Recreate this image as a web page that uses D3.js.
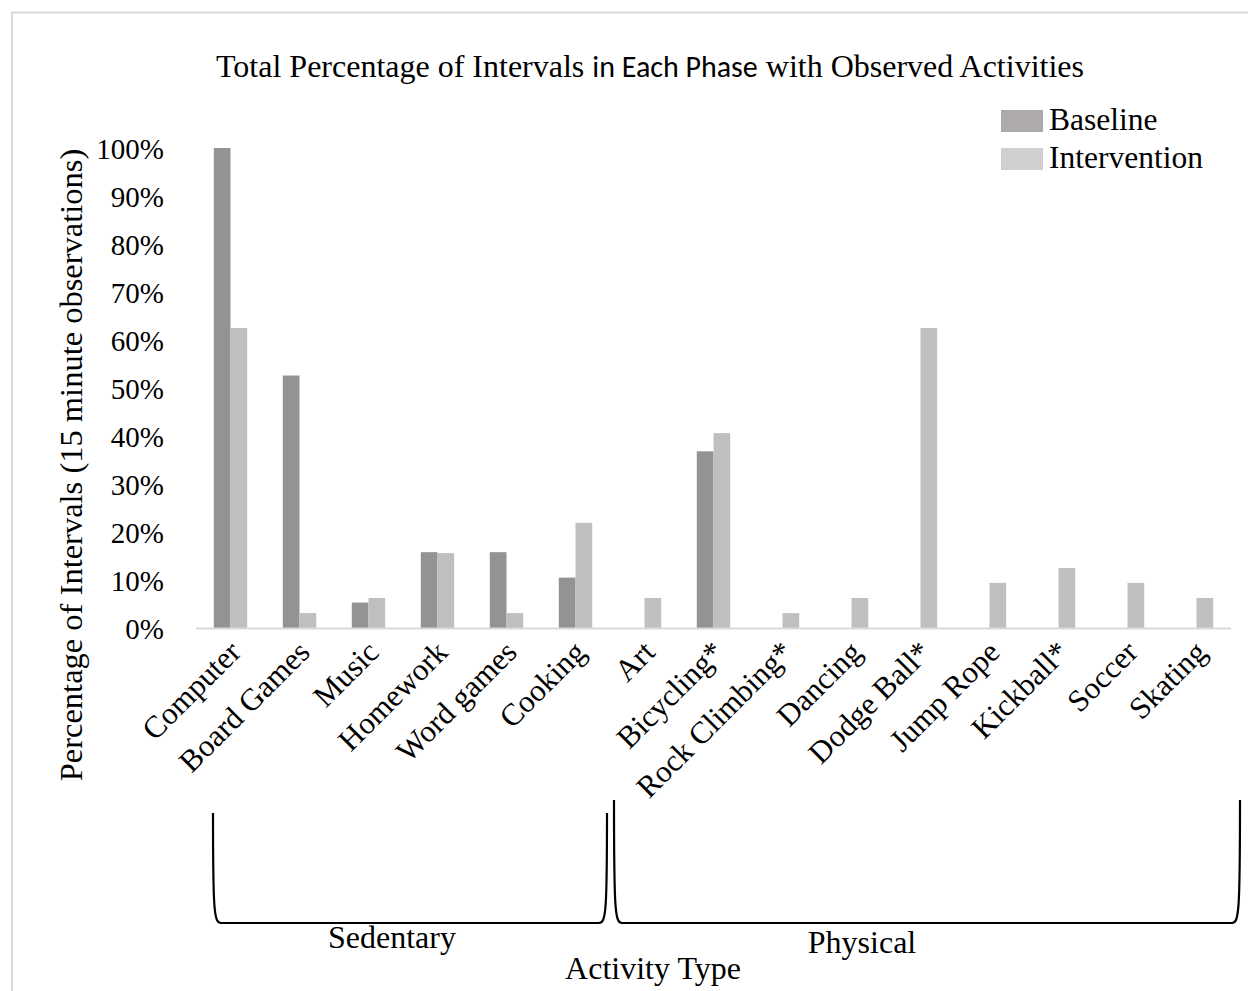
<!DOCTYPE html>
<html>
<head>
<meta charset="utf-8">
<script src="https://cdn.jsdelivr.net/npm/d3@7"></script>
<style>
  html, body { margin: 0; padding: 0; background: #fff; }
  svg { display: block; }
</style>
</head>
<body>
<svg id="chart" width="1248" height="991"></svg>
<script>
// Activities observed, in display order
const activities = ["Computer", "Board Games", "Music", "Homework", "Word games", "Cooking",
  "Art", "Bicycling*", "Rock Climbing*", "Dancing", "Dodge Ball*", "Jump Rope", "Kickball*", "Soccer", "Skating"];

// Percentage of intervals with each activity (baseline: 19 intervals, intervention: 32 intervals)
const baseline = [100, 52.6, 5.3, 15.8, 15.8, 10.5, 0, 36.8, 0, 0, 0, 0, 0, 0, 0];
const intervention = [62.5, 3.1, 6.25, 15.6, 3.1, 21.9, 6.25, 40.6, 3.1, 6.25, 62.5, 9.4, 12.5, 9.4, 6.25];

const seriesNames = ["Baseline", "Intervention"];
const yTicks = [0, 10, 20, 30, 40, 50, 60, 70, 80, 90, 100];

// Activity groups shown as brackets under the axis
const groups = [
  { name: "Sedentary", first: "Computer", last: "Cooking" },
  { name: "Physical", first: "Art", last: "Skating" }
];

const serif = "'Liberation Serif', 'Times New Roman', serif";
const sans = "Carlito, 'Open Sans', 'Noto Sans', sans-serif";

const svg = d3.select("#chart");

// outer chart frame
svg.append("rect")
  .attr("x", 12).attr("y", 12.5)
  .attr("width", 1260).attr("height", 1000)
  .attr("fill", "none").attr("stroke", "#d9d9d9").attr("stroke-width", 2);

const plot = { left: 196, right: 1231, top: 148, bottom: 628 };

const x = d3.scaleBand().domain(activities).range([plot.left, plot.right]).padding(0);
const y = d3.scaleLinear().domain([0, 100]).range([plot.bottom, plot.top]);
const barW = 16.7;

const fills = { Baseline: "#939393", Intervention: "#bfbfbf" };
const swatch = { Baseline: "#aeaaaa", Intervention: "#d0cece" };

// bars
const series = [
  { name: "Baseline", values: baseline, offset: -1 },
  { name: "Intervention", values: intervention, offset: 0 }
];
series.forEach(s => {
  svg.append("g").selectAll("rect")
    .data(activities.map((a, i) => ({ a, v: s.values[i] })).filter(d => d.v > 0))
    .join("rect")
    .attr("x", d => x(d.a) + x.bandwidth() / 2 + s.offset * barW)
    .attr("y", d => y(d.v))
    .attr("width", barW)
    .attr("height", d => y(0) - y(d.v))
    .attr("fill", fills[s.name]);
});

// x axis baseline
svg.append("line")
  .attr("x1", plot.left).attr("x2", plot.right)
  .attr("y1", y(0) + 0.5).attr("y2", y(0) + 0.5)
  .attr("stroke", "#d9d9d9").attr("stroke-width", 2);

// y axis labels
const yAxis = d3.axisLeft(y).tickValues(yTicks).tickFormat(d => d + "%").tickSize(0).tickPadding(0);
const gy = svg.append("g").attr("transform", `translate(164,0)`).call(yAxis);
gy.select(".domain").remove();
gy.selectAll("text")
  .attr("font-family", serif).attr("font-size", 29).attr("fill", "#000")
  .attr("dy", "0.35em");

// category labels, rotated
const xAxis = d3.axisBottom(x).tickSize(0).tickPadding(0);
const gx = svg.append("g").attr("transform", `translate(0,${plot.bottom})`).call(xAxis);
gx.select(".domain").remove();
gx.selectAll("text")
  .attr("font-family", serif).attr("font-size", 31).attr("fill", "#000")
  .attr("text-anchor", "end")
  .attr("dy", 0).attr("y", 0)
  .attr("transform", "translate(12,26) rotate(-45)");

// y axis title
svg.append("text")
  .attr("transform", `translate(82,${(plot.top + 782) / 2}) rotate(-90)`)
  .attr("text-anchor", "middle")
  .attr("font-family", serif).attr("font-size", 32.5)
  .text("Percentage of Intervals (15 minute observations)");

// chart title (mixed typefaces)
const title = svg.append("text")
  .attr("x", 650).attr("y", 77)
  .attr("text-anchor", "middle")
  .attr("font-size", 32);
title.append("tspan").attr("font-family", serif).text("Total Percentage of Intervals ");
title.append("tspan").attr("font-family", sans).attr("font-size", 30).text("in Each Phase");
title.append("tspan").attr("font-family", serif).text(" with Observed Activities");

// legend
const legend = svg.append("g");
seriesNames.forEach((n, i) => {
  const yy = 110 + i * 38;
  legend.append("rect").attr("x", 1001).attr("y", yy).attr("width", 42).attr("height", 22)
    .attr("fill", swatch[n]);
  legend.append("text").attr("x", 1049).attr("y", yy + 20)
    .attr("font-family", serif).attr("font-size", 31.5).text(n);
});

// group brackets
function bracket(x0, x1, top, bottom) {
  const p = d3.path();
  p.moveTo(x0, top);
  p.bezierCurveTo(x0, bottom - 12, x0 + 1, bottom, x0 + 8, bottom);
  p.lineTo(x1 - 8, bottom);
  p.bezierCurveTo(x1 - 1, bottom, x1, bottom - 12, x1, top);
  return p.toString();
}
const bracketSpan = {
  Sedentary: [x(groups[0].first) + 17, x(groups[1].first) - 3, 813],
  Physical: [x(groups[1].first) + 4, x(groups[1].last) + x.bandwidth() + 9, 800]
};
groups.forEach(g => {
  const [x0, x1, top] = bracketSpan[g.name];
  svg.append("path")
    .attr("d", bracket(x0, x1, top, 923))
    .attr("fill", "none").attr("stroke", "#000").attr("stroke-width", 2.2);
});
svg.append("text").attr("x", 392).attr("y", 948).attr("text-anchor", "middle")
  .attr("font-family", serif).attr("font-size", 32).text("Sedentary");
svg.append("text").attr("x", 862).attr("y", 953).attr("text-anchor", "middle")
  .attr("font-family", serif).attr("font-size", 32).text("Physical");

// x axis title
svg.append("text").attr("x", 653).attr("y", 979).attr("text-anchor", "middle")
  .attr("font-family", serif).attr("font-size", 32).text("Activity Type");
</script>
</body>
</html>
